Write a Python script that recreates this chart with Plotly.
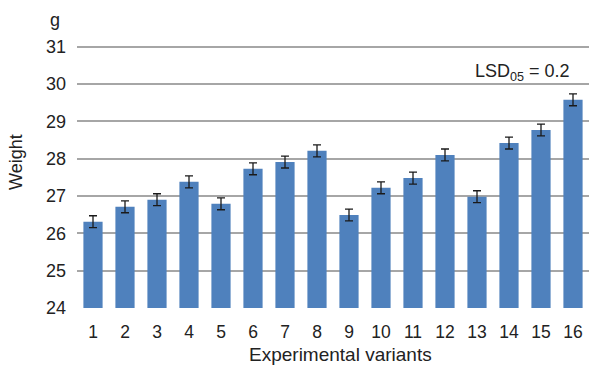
import plotly.graph_objects as go

variants = [str(i) for i in range(1, 17)]
weights = [26.31, 26.71, 26.90, 27.38, 26.79, 27.73, 27.91, 28.21,
           26.49, 27.22, 27.48, 28.10, 26.98, 28.42, 28.77, 29.58]
errors = [0.16] * 16
y_ticks = [24, 25, 26, 27, 28, 29, 30, 31]

FONT = "Liberation Sans, Arial, sans-serif"
TXT = "#222222"

fig = go.Figure()
fig.add_trace(go.Bar(
    x=variants, y=weights,
    marker=dict(color="#4F81BD", line=dict(width=0)),
    width=0.6,
    error_y=dict(type="data", array=errors, visible=True,
                 color="#1a1a1a", thickness=1.3, width=4),
))

# plot area: x 77..589, y(31)=47, y(24)=308
fig.update_layout(
    width=589, height=367,
    margin=dict(l=77, r=0, t=45, b=59),
    paper_bgcolor="white", plot_bgcolor="white",
    showlegend=False,
    font=dict(family=FONT, size=18, color=TXT),
    xaxis=dict(showgrid=False, showline=False, zeroline=False,
               automargin=False, range=[-0.5, 15.5],
               ticks="", ticklabelstandoff=11,
               tickfont=dict(size=17.5, color=TXT)),
    yaxis=dict(range=[23.995, 31.05], tickvals=y_ticks,
               automargin=False,
               showgrid=True, gridcolor="#A6A6A6", gridwidth=1.6,
               zeroline=False, showline=False, ticks="",
               ticklabelstandoff=10,
               tickfont=dict(size=18, color=TXT)),
    annotations=[
        dict(text="g", xref="paper", yref="paper",
             x=(55 - 77) / 512, y=(308 - 20) / 263,
             xanchor="center", yanchor="middle", showarrow=False,
             font=dict(size=18, color=TXT)),
        dict(text="Weight", xref="paper", yref="paper",
             x=(16 - 77) / 512, y=(308 - 162) / 263, textangle=-90,
             xanchor="center", yanchor="middle", showarrow=False,
             font=dict(size=18, color=TXT)),
        dict(text="Experimental variants", xref="paper", yref="paper",
             x=(340 - 77) / 512, y=(308 - 354.5) / 263,
             xanchor="center", yanchor="middle", showarrow=False,
             font=dict(size=19, color=TXT)),
        dict(text="LSD<sub>05</sub> = 0.2", xref="paper", yref="paper",
             x=(572 - 77) / 512, y=(308 - 72) / 263,
             xanchor="right", yanchor="middle", showarrow=False,
             font=dict(size=18, color=TXT)),
    ],
)

fig.write_html(
    "out.html",
    config={"displayModeBar": False},
    post_script="document.body.style.margin='0';document.body.style.overflow='hidden';",
)
